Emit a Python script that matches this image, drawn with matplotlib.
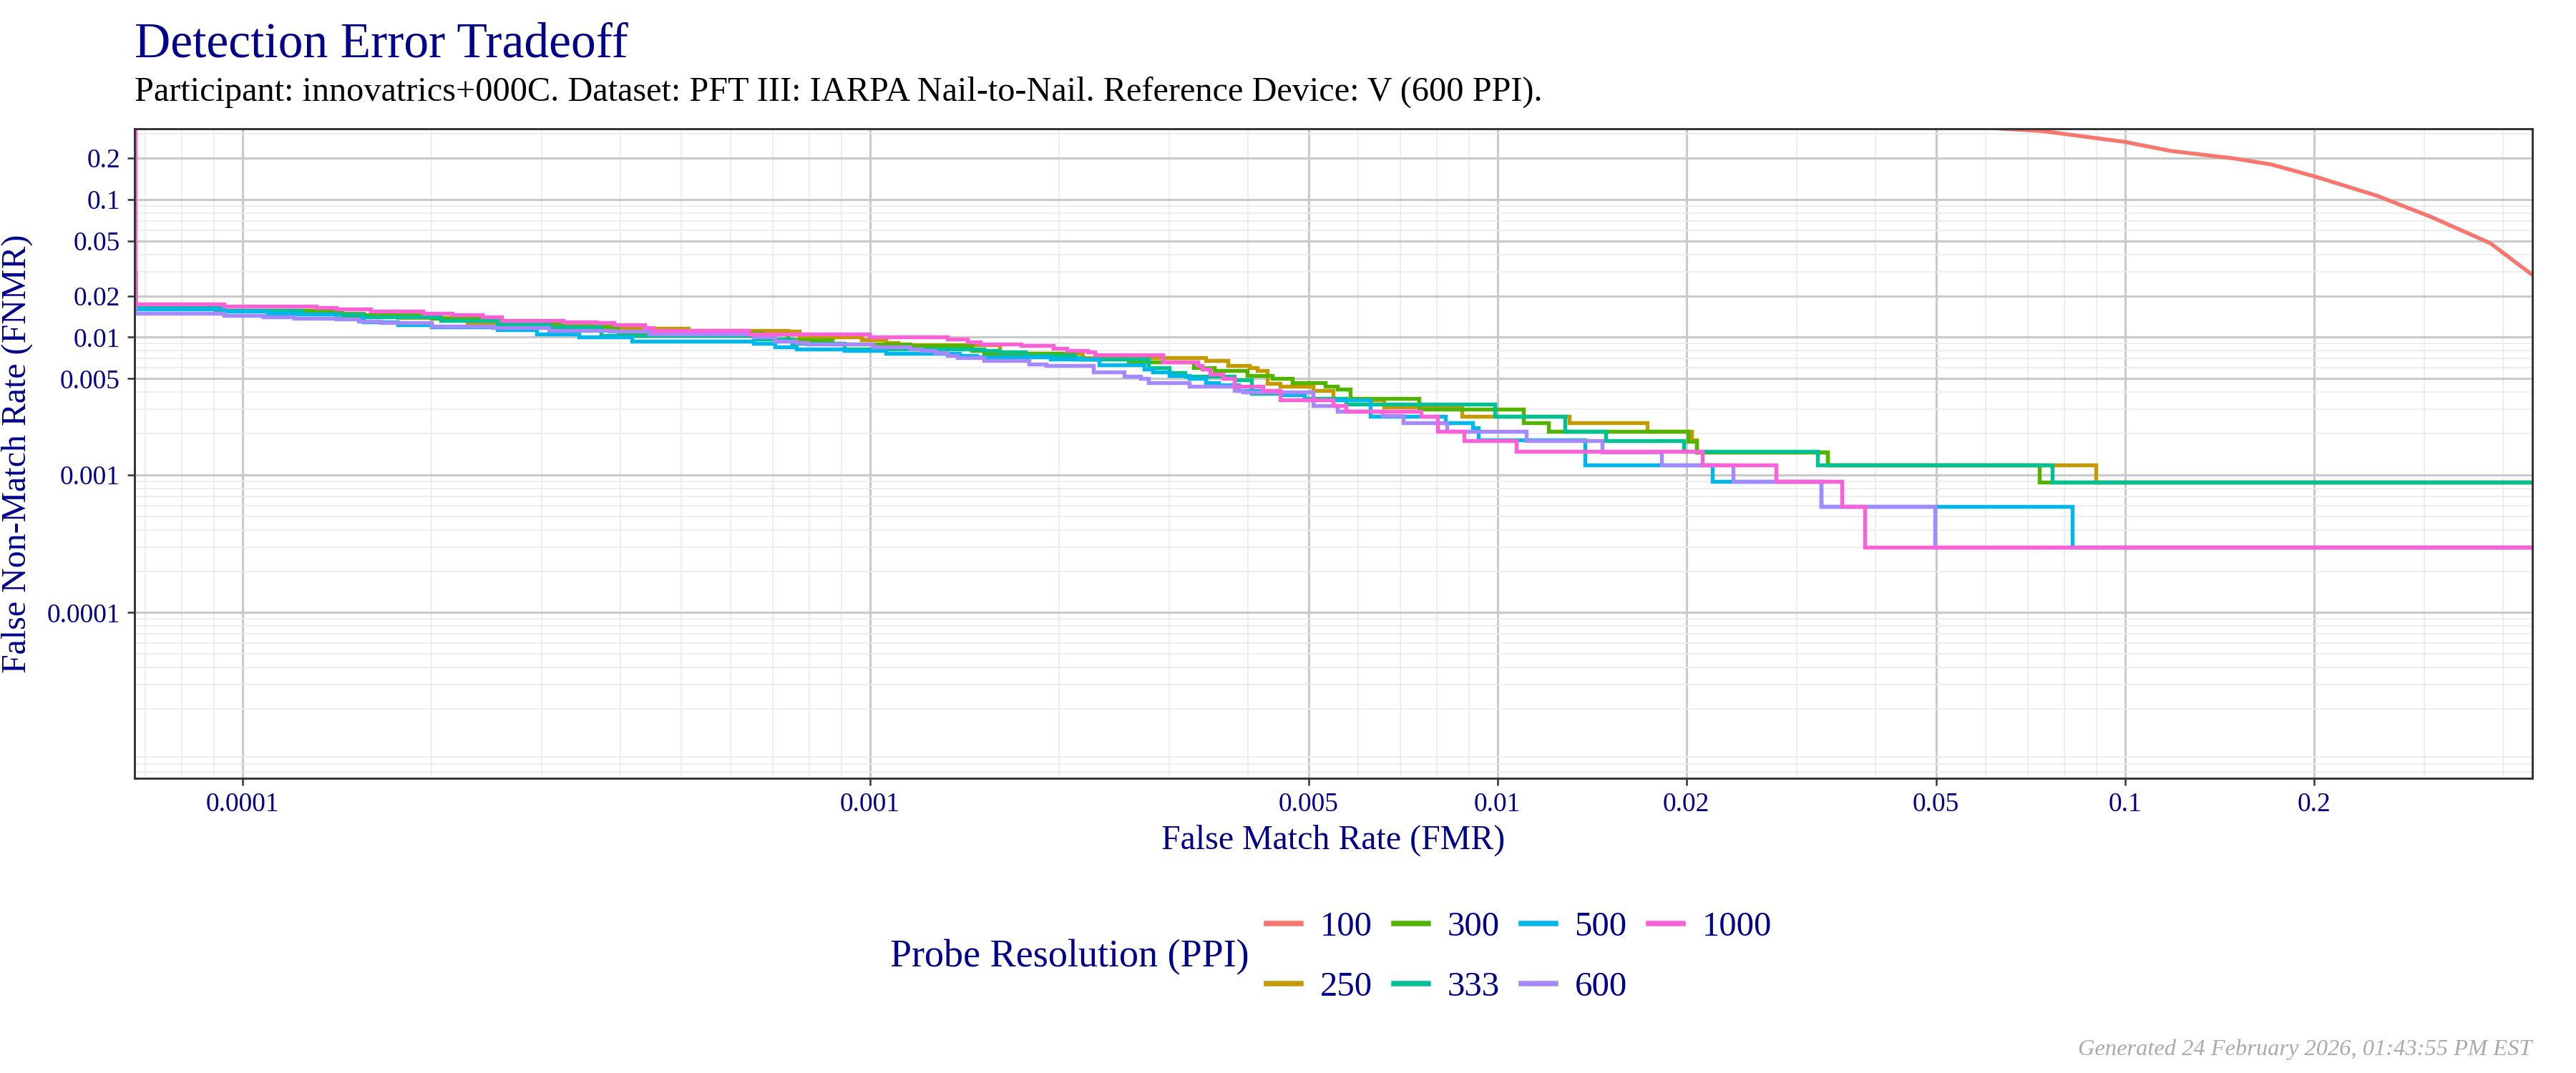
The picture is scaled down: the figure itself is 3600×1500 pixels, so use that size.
import numpy as np
import matplotlib
matplotlib.use("Agg")
import matplotlib.pyplot as plt
from matplotlib.lines import Line2D
from matplotlib.ticker import FixedLocator, FixedFormatter, LogLocator, NullFormatter

plt.rcParams['font.family'] = ['Liberation Serif', 'DejaVu Serif']

# --- data (FMR breakpoints, FNMR level from that point on) ---
ppi_levels = ['100', '250', '300', '333', '500', '600', '1000']
ppi_colors = ['#F8766D', '#C49A00', '#53B400', '#00C094', '#00B6EB', '#A58AFF', '#FB61D7']

fmr_100 = [0.040, 0.0615, 0.0740, 0.100, 0.1183, 0.1494, 0.171, 0.2004, 0.2512, 0.307, 0.382, 0.4437]
fnmr_100 = [0.37, 0.330, 0.314, 0.262, 0.2254, 0.1986, 0.1798, 0.1473, 0.1071, 0.0750, 0.0482, 0.0288]

fmr_250 = [6.73e-5, 6.74e-5, 9.2e-5, 1.327e-4, 1.56e-4, 1.77e-4, 2.28e-4, 2.94e-4, 3.91e-4, 5.13e-4,
           7.39e-4, 7.71e-4, 9.69e-4, 1.059e-3, 1.107e-3, 1.61e-3, 2.18e-3, 3.43e-3, 3.72e-3, 4.02e-3,
           4.14e-3, 4.30e-3, 4.50e-3, 5.08e-3, 5.47e-3, 6.59e-3, 8.78e-3, 1.30e-2, 1.732e-2, 2.04e-2,
           2.075e-2, 3.36e-2, 8.99e-2, 0.4457]
fnmr_250 = [0.03, 0.0162, 0.0157, 0.0149, 0.0143, 0.0139, 0.0128, 0.0122, 0.0116, 0.01125,
            0.0110, 0.0101, 0.0096, 0.0091, 0.0088, 0.0076, 0.0071, 0.0068, 0.0062, 0.0060,
            0.0057, 0.0046, 0.0044, 0.0041, 0.0035, 0.0031, 0.00268, 0.00238, 0.00207, 0.0018,
            0.00147, 0.00118, 0.00089, 0.00089]

fmr_300 = [6.73e-5, 6.74e-5, 9.06e-5, 1.44e-4, 2.00e-4, 2.59e-4, 3.24e-4, 3.97e-4, 6.72e-4, 7.39e-4,
           8.71e-4, 1.159e-3, 1.454e-3, 1.52e-3, 2.118e-3, 2.58e-3, 3.28e-3, 3.54e-3, 3.99e-3, 4.37e-3,
           4.71e-3, 5.31e-3, 5.56e-3, 5.82e-3, 7.49e-3, 1.10e-2, 1.206e-2, 2.013e-2, 2.075e-2, 3.357e-2,
           7.31e-2, 0.4457]
fnmr_300 = [0.03, 0.0165, 0.0157, 0.0146, 0.0137, 0.0127, 0.0119, 0.0108, 0.0105, 0.0096,
            0.0089, 0.0087, 0.0080, 0.0076, 0.0069, 0.0066, 0.0060, 0.0057, 0.0053, 0.0050,
            0.0047, 0.0044, 0.0042, 0.0036, 0.0030, 0.0024, 0.00207, 0.00176, 0.00147, 0.00118,
            0.00089, 0.00089]

fmr_333 = [6.73e-5, 6.74e-5, 9.35e-5, 1.245e-4, 1.56e-4, 2.07e-4, 2.55e-4, 3.08e-4, 3.73e-4, 6.52e-4,
           7.52e-4, 9.11e-4, 1.52e-3, 1.61e-3, 1.768e-3, 2.118e-3, 2.18e-3, 2.78e-3, 3.00e-3, 3.18e-3,
           3.81e-3, 4.05e-3, 4.93e-3, 5.73e-3, 9.91e-3, 1.28e-2, 1.489e-2, 1.982e-2, 3.235e-2, 7.66e-2,
           0.4457]
fnmr_333 = [0.029, 0.0164, 0.0157, 0.0147, 0.0140, 0.0132, 0.0125, 0.0119, 0.0103, 0.0097,
            0.0090, 0.0082, 0.0080, 0.0078, 0.0074, 0.0071, 0.0069, 0.0060, 0.0055, 0.0052,
            0.0049, 0.0039, 0.0036, 0.00327, 0.00268, 0.00207, 0.00178, 0.00148, 0.00118, 0.00089,
            0.00089]

fmr_500 = [6.73e-5, 6.74e-5, 9.35e-5, 1.096e-4, 1.21e-4, 1.41e-4, 1.56e-4, 1.77e-4, 2.00e-4, 2.55e-4,
           2.94e-4, 3.44e-4, 4.17e-4, 6.52e-4, 7.05e-4, 7.63e-4, 9.11e-4, 1.059e-3, 1.39e-3, 1.48e-3,
           1.94e-3, 2.32e-3, 2.735e-3, 2.82e-3, 3.00e-3, 3.23e-3, 3.43e-3, 3.59e-3, 3.87e-3, 4.50e-3,
           4.93e-3, 6.27e-3, 8.26e-3, 9.12e-3, 9.33e-3, 1.38e-2, 2.20e-2, 3.28e-2, 8.24e-2, 0.4457]
fnmr_500 = [0.03, 0.0161, 0.0155, 0.0150, 0.0148, 0.0138, 0.0129, 0.0123, 0.0119, 0.0114,
            0.0105, 0.0100, 0.0094, 0.0090, 0.0085, 0.0082, 0.0080, 0.0076, 0.0074, 0.0072,
            0.0069, 0.0063, 0.0059, 0.0056, 0.0053, 0.0050, 0.0047, 0.0045, 0.0041, 0.0038,
            0.0035, 0.00268, 0.0024, 0.0022, 0.0018, 0.00118, 0.000895, 0.000589, 0.000297, 0.000297]

fmr_600 = [6.73e-5, 6.74e-5, 9.35e-5, 1.08e-4, 1.21e-4, 1.41e-4, 1.53e-4, 1.66e-4, 2.00e-4, 2.50e-4,
           3.08e-4, 3.85e-4, 4.44e-4, 6.52e-4, 7.05e-4, 7.63e-4, 7.94e-4, 1.01e-3, 1.16e-3, 1.21e-3,
           1.27e-3, 1.33e-3, 1.38e-3, 1.52e-3, 1.79e-3, 1.91e-3, 2.27e-3, 2.54e-3, 2.70e-3, 2.78e-3,
           3.23e-3, 3.81e-3, 3.93e-3, 5.08e-3, 5.56e-3, 6.56e-3, 7.08e-3, 8.30e-3, 1.11e-2, 1.466e-2,
           1.824e-2, 2.375e-2, 3.28e-2, 4.97e-2, 0.4457]
fnmr_600 = [0.03, 0.0150, 0.0144, 0.0140, 0.0137, 0.0135, 0.0131, 0.0128, 0.0120, 0.0117,
            0.01125, 0.0110, 0.0106, 0.0100, 0.0094, 0.0091, 0.0089, 0.0085, 0.0082, 0.0080,
            0.0077, 0.0074, 0.0071, 0.0068, 0.0064, 0.0062, 0.0056, 0.0052, 0.0050, 0.0047,
            0.0044, 0.0041, 0.0040, 0.0032, 0.0029, 0.0027, 0.00238, 0.00207, 0.00178, 0.00147,
            0.00118, 0.000895, 0.000589, 0.000297, 0.000297]

fmr_1000 = [6.73e-5, 6.74e-5, 9.35e-5, 1.31e-4, 1.41e-4, 1.60e-4, 1.94e-4, 2.16e-4, 2.41e-4, 2.59e-4,
            3.24e-4, 3.67e-4, 3.91e-4, 4.37e-4, 4.52e-4, 6.41e-4, 9.97e-4, 1.33e-3, 1.43e-3, 1.50e-3,
            1.74e-3, 1.96e-3, 2.06e-3, 2.22e-3, 2.28e-3, 2.93e-3, 3.33e-3, 3.38e-3, 3.48e-3, 3.65e-3,
            3.81e-3, 4.23e-3, 4.50e-3, 5.47e-3, 5.73e-3, 7.55e-3, 8.02e-3, 8.85e-3, 1.07e-2, 2.12e-2,
            2.78e-2, 3.54e-2, 3.85e-2, 0.4457]
fnmr_1000 = [1.0, 0.01745, 0.0168, 0.0164, 0.0160, 0.0155, 0.0150, 0.0146, 0.0141, 0.0133,
             0.0129, 0.0127, 0.0123, 0.0118, 0.01125, 0.0105, 0.0100, 0.0097, 0.0092, 0.0089,
             0.0087, 0.0083, 0.0080, 0.0078, 0.0075, 0.0066, 0.0062, 0.0059, 0.0054, 0.0050,
             0.0044, 0.0041, 0.0035, 0.0032, 0.0029, 0.00268, 0.00207, 0.00178, 0.00148, 0.00118,
             0.000895, 0.000589, 0.000297, 0.000297]

tick_vals = [0.0001, 0.001, 0.005, 0.01, 0.02, 0.05, 0.1, 0.2]
tick_labels = ['0.0001', '0.001', '0.005', '0.01', '0.02', '0.05', '0.1', '0.2']

NAVY = '#00008B'

fig = plt.figure(figsize=(12, 5), dpi=300)
ax = fig.add_axes([188 / 3600, 1 - 1088 / 1500, (3539 - 188) / 3600, (1088 - 180) / 1500])
ax.set_xscale('log')
ax.set_yscale('log')

# 100 PPI is a smooth curve, the others are empirical step curves
ax.plot(fmr_100, fnmr_100, color=ppi_colors[0], lw=1.3, solid_joinstyle='round')
steps = [(fmr_250, fnmr_250), (fmr_300, fnmr_300), (fmr_333, fnmr_333),
         (fmr_500, fnmr_500), (fmr_600, fnmr_600), (fmr_1000, fnmr_1000)]
for (x, y), c in zip(steps, ppi_colors[1:]):
    ax.plot(x, y, color=c, lw=1.3, drawstyle='steps-post', solid_joinstyle='miter')

ax.set_xlim(6.73e-5, 0.4457)
ax.set_ylim(6.27e-6, 0.3266)

for axis in (ax.xaxis, ax.yaxis):
    axis.set_major_locator(FixedLocator(tick_vals))
    axis.set_major_formatter(FixedFormatter(tick_labels))
    axis.set_minor_locator(LogLocator(base=10, subs=np.arange(2, 10), numticks=100))
    axis.set_minor_formatter(NullFormatter())

ax.set_axisbelow(True)
ax.grid(which='major', color='#CACACA', lw=0.75)
ax.grid(which='minor', color='#EBEBEB', lw=0.4)
for s in ax.spines.values():
    s.set_color('#333333')
    s.set_linewidth(0.7)
ax.tick_params(which='major', length=2.4, width=0.6, color='#333333',
               labelsize=9, labelcolor=NAVY, pad=2.4)
ax.tick_params(which='minor', length=0)

ax.set_xlabel('False Match Rate (FMR)', color=NAVY, fontsize=11.5, labelpad=2.5)
ax.set_ylabel('False Non-Match Rate (FNMR)', color=NAVY, fontsize=11.5)
ax.yaxis.set_label_coords(-0.0425, 0.5)

fig.text(188 / 3600, 1 - 79 / 1500, 'Detection Error Tradeoff', color=NAVY,
         fontsize=16.7, va='baseline', ha='left')
fig.text(188 / 3600, 1 - 141 / 1500,
         'Participant: innovatrics+000C. Dataset: PFT III: IARPA Nail-to-Nail. '
         'Reference Device: V (600 PPI).',
         color='black', fontsize=11.6, va='baseline', ha='left')

# legend at the bottom, title on the left
handles = [Line2D([], [], color=c, lw=1.8) for c in ppi_colors]
fig.legend(handles, ppi_levels, loc='center left',
           bbox_to_anchor=(1770 / 3600, 1 - 1338 / 1500), ncol=4, frameon=False,
           fontsize=11.7, labelcolor=NAVY, handlelength=0.98, handletextpad=0.55,
           columnspacing=0.62, labelspacing=0.8, borderpad=0, borderaxespad=0)
fig.text(1244 / 3600, 1 - 1338 / 1500, 'Probe Resolution (PPI)', color=NAVY,
         fontsize=13, va='center', ha='left')

fig.text(3538 / 3600, 1 - 1467 / 1500, 'Generated 24 February 2026, 01:43:55 PM EST',
         color='#ABABAB', fontsize=7.8, style='italic', va='center', ha='right')

fig.savefig('out.png', dpi=300)
